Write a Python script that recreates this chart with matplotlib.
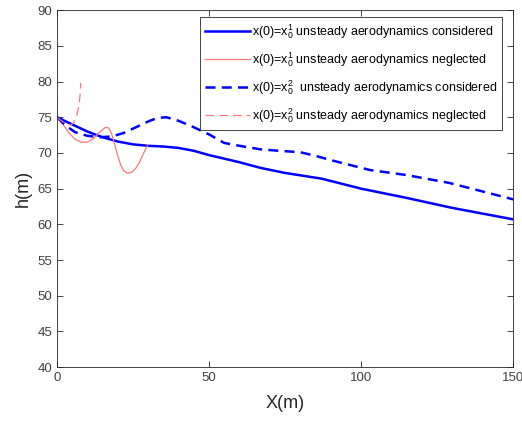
import matplotlib
matplotlib.use('Agg')
import matplotlib.pyplot as plt

plt.rcParams['font.family'] = ['Liberation Sans', 'DejaVu Sans']
plt.rcParams['mathtext.fontset'] = 'custom'
plt.rcParams['mathtext.rm'] = 'Liberation Sans'
plt.rcParams['mathtext.it'] = 'Liberation Sans'

# x(0)=x0^1, unsteady aerodynamics considered
x1c = [0, 5, 10, 15, 20, 25, 30, 35, 40, 45, 50, 55, 60, 67, 75, 87, 100, 115, 130, 150]
h1c = [75, 74.0, 73.0, 72.2, 71.6, 71.2, 71.0, 70.9, 70.7, 70.3, 69.7, 69.2, 68.7, 67.9,
       67.2, 66.4, 65.0, 63.7, 62.3, 60.7]

# x(0)=x0^1, unsteady aerodynamics neglected
x1n = [0, 2, 4, 6, 8, 10, 12, 14, 16, 17, 18, 19, 20, 21, 22, 23, 24, 25, 26, 27, 28, 29, 30]
h1n = [75, 74, 72.8, 71.9, 71.5, 71.5, 72.0, 72.9, 73.6, 73.5, 72.7, 71.2, 69.6, 68.3, 67.5,
       67.2, 67.2, 67.4, 67.9, 68.6, 69.5, 70.4, 71.2]

# x(0)=x0^2, unsteady aerodynamics considered
x2c = [0, 3, 6, 10, 14, 18, 22, 26, 30, 33, 36, 40, 45, 50, 55, 60, 67, 73, 80, 85, 90,
       103, 115, 129, 140, 150]
h2c = [75, 73.8, 72.9, 72.4, 72.2, 72.3, 72.8, 73.6, 74.4, 74.9, 75.0, 74.5, 73.6, 72.6,
       71.4, 71.0, 70.5, 70.3, 70.1, 69.6, 69.0, 67.6, 66.9, 65.8, 64.6, 63.5]

# x(0)=x0^2, unsteady aerodynamics neglected
x2n = [0, 1.5, 3, 4.5, 5.5, 6.5, 7.2, 7.6, 7.8, 7.8]
h2n = [75, 74.5, 74.1, 73.9, 74.2, 75.2, 76.6, 78, 79.2, 79.8]

fig = plt.figure(figsize=(5.22, 4.22), dpi=100)
ax = fig.add_axes([0.109, 0.130, 0.874, 0.846])

ax.plot(x1c, h1c, color='#0000ff', lw=1.8,
        label=r'x(0)=x$_0^1$ unsteady aerodynamics considered')
ax.plot(x1n, h1n, color='#ff7878', lw=0.9,
        label=r'x(0)=x$_0^1$ unsteady aerodynamics neglected')
ax.plot(x2c, h2c, color='#0000ff', lw=1.8, ls=(0, (4, 2.5)),
        label=r'x(0)=x$_0^2$  unsteady aerodynamics considered')
ax.plot(x2n, h2n, color='#ff7878', lw=0.9, ls=(0, (7, 4)),
        label=r'x(0)=x$_0^2$ unsteady aerodynamics neglected')

ax.set_xlim(0, 150)
ax.set_ylim(40, 90)
ax.set_xticks([0, 50, 100, 150])
ax.set_yticks(range(40, 91, 5))
ax.tick_params(direction='in', top=True, right=True, length=4, width=0.6,
               labelsize=9.5, colors='#262626', labelcolor='#404040')
for s in ax.spines.values():
    s.set_color('#262626')
    s.set_linewidth(0.6)

ax.set_xlabel('X(m)', fontsize=13, color='#262626', labelpad=8)
ax.set_ylabel('h(m)', fontsize=13, color='#262626')

leg = ax.legend(loc='upper right', fontsize=9, handlelength=3.6, handletextpad=0.15,
                labelspacing=0.75, borderpad=0.4, borderaxespad=0, fancybox=False,
                framealpha=1, edgecolor='#262626', bbox_to_anchor=(0.976, 0.981))
leg.get_frame().set_linewidth(0.6)

fig.savefig('out.png', dpi=100)
